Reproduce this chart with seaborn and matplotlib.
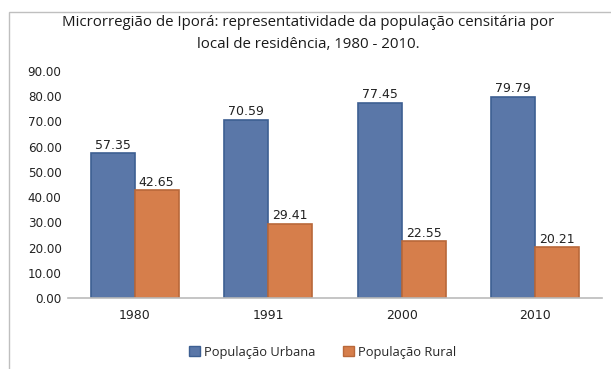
import matplotlib
matplotlib.use("Agg")
import matplotlib.pyplot as plt
from matplotlib.patches import Rectangle
import seaborn as sns
import pandas as pd

years = ["1980", "1991", "2000", "2010"]
urbana = [57.35, 70.59, 77.45, 79.79]
rural = [42.65, 29.41, 22.55, 20.21]
series_names = ["População Urbana", "População Rural"]
title = ("Microrregião de Iporá: representatividade da população censitária por\n"
         "local de residência, 1980 - 2010.")

df = pd.DataFrame({
    "ano": years * 2,
    "valor": urbana + rural,
    "serie": [series_names[0]] * len(years) + [series_names[1]] * len(years),
})

sns.set_theme(style="white")
plt.rcParams["font.family"] = ["Open Sans", "DejaVu Sans"]

fig = plt.figure(figsize=(6.11, 3.69), dpi=100)
ax = fig.add_axes([0.111, 0.192, 0.874, 0.616])

palette = {series_names[0]: "#5A77A8", series_names[1]: "#D67E4B"}
edges = {series_names[0]: "#3D5F92", series_names[1]: "#B9683A"}

sns.barplot(data=df, x="ano", y="valor", hue="serie", order=years,
            hue_order=series_names, palette=palette, width=0.66,
            saturation=1, ax=ax, legend=True)

for container, name in zip(ax.containers, series_names):
    for bar in container:
        bar.set_edgecolor(edges[name])
        bar.set_linewidth(1.2)
    ax.bar_label(container, fmt="%.2f", padding=1, fontsize=9,
                 family="DejaVu Sans", color="#222222")

ax.set_ylim(0, 90)
ax.set_yticks(range(0, 91, 10))
ax.set_yticklabels([f"{v:.2f}" for v in range(0, 91, 10)],
                   family="DejaVu Sans", fontsize=8.6, color="#222222")
ax.tick_params(axis="x", labelsize=9, colors="#222222", length=0, pad=8)
ax.tick_params(axis="y", length=0, pad=4.5)
for lab in ax.get_xticklabels():
    lab.set_family("DejaVu Sans")
ax.set_xlabel("")
ax.set_ylabel("")
for side in ["top", "right", "left"]:
    ax.spines[side].set_visible(False)
ax.spines["bottom"].set_color("#BBBBBB")
ax.spines["bottom"].set_linewidth(1.2)
ax.set_xlim(-0.5, 3.5)

handles, labels = ax.get_legend_handles_labels()
for h, name in zip(handles, series_names):
    h.set_edgecolor(edges[name])
ax.legend(handles, labels, loc="center", bbox_to_anchor=(0.528, 0.045),
          bbox_transform=fig.transFigure, ncol=2, frameon=False, fontsize=9.3,
          handlelength=0.8, handleheight=0.8, columnspacing=2.2,
          handletextpad=0.3)

fig.text(0.505, 0.909, title, ha="center", va="center", fontsize=10.8,
         color="#1a1a1a", linespacing=1.65)

# outer chart frame
fig.patches.append(Rectangle((9 / 611, -0.2), 1.1, 1.2 - 12 / 369,
                             transform=fig.transFigure, fill=False,
                             edgecolor="#BFBFBF", linewidth=1.0))

fig.savefig("out.png", dpi=100)
